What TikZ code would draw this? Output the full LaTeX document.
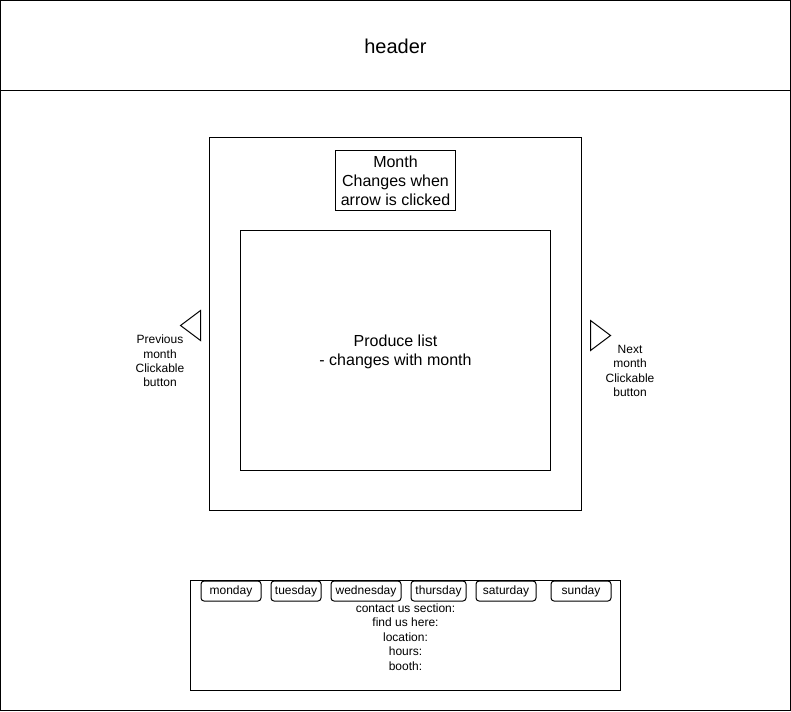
\documentclass[tikz,border=0pt]{standalone}
\usepackage{fontspec}
\setmainfont{Liberation Sans}
\begin{document}
\begin{tikzpicture}[x=1pt,y=-1pt,line width=1pt,
  box/.style={draw=black,line width=1pt},
  small/.style={font=\fontsize{12}{14.4}\selectfont,align=center,inner sep=0pt},
  mid/.style={font=\fontsize{16}{19.2}\selectfont,align=center,inner sep=0pt},
  day/.style={draw=black,line width=1pt,rounded corners=3pt,font=\fontsize{12}{14.4}\selectfont,inner sep=0pt,anchor=north west}]
\useasboundingbox (0,0) rectangle (791,711);
\fill[white] (0,0) rectangle (791,711);
% outer frame and header
\draw[box] (0.5,0.5) rectangle (790.5,710.5);
\draw[box] (0.5,90.5) -- (790.5,90.5);
\node[font=\fontsize{20}{24}\selectfont,inner sep=0pt] (header) at (395.5,46.5) {header};
% month container
\draw[box] (209.5,137.5) rectangle (581.5,510.5);
\draw[box] (335.5,150.5) rectangle (455.5,210.5);
\node[mid] (month) at (395.5,181) {Month\\Changes when\\arrow is clicked};
\draw[box] (240.5,230.5) rectangle (550.5,470.5);
\node[mid] (produce) at (395.5,352) {Produce list\\- changes with month};
% arrows
\draw[box,line join=miter] (200.5,310.5) -- (180.5,325.5) -- (200.5,340.5) -- cycle;
\node[small] (prev) at (160,361) {Previous\\month\\Clickable\\button};
\draw[box,line join=miter] (590.5,320.5) -- (610.5,335.5) -- (590.5,350.5) -- cycle;
\node[small] (next) at (630,371) {Next\\month\\Clickable\\button};
% footer
\draw[box] (190.5,580.5) rectangle (620.5,690.5);
\node[day,minimum width=60pt,minimum height=20pt] (mon) at (200.5,580.5) {\raisebox{-0.7pt}{monday}};
\node[day,minimum width=50pt,minimum height=20pt] (tue) at (270.5,580.5) {\raisebox{-0.7pt}{tuesday}};
\node[day,minimum width=70pt,minimum height=20pt] (wed) at (330.5,580.5) {\raisebox{-0.7pt}{wednesday}};
\node[day,minimum width=55pt,minimum height=20pt] (thu) at (410.5,580.5) {\raisebox{-0.7pt}{thursday}};
\node[day,minimum width=60pt,minimum height=20pt] (sat) at (475.5,580.5) {\raisebox{-0.7pt}{saturday}};
\node[day,minimum width=60pt,minimum height=20pt] (sun) at (550.5,580.5) {\raisebox{-0.7pt}{sunday}};
\node[small] (contact) at (405.5,637) {contact us section:\\find us here:\\location:\\hours:\\booth:};
\end{tikzpicture}
\end{document}
